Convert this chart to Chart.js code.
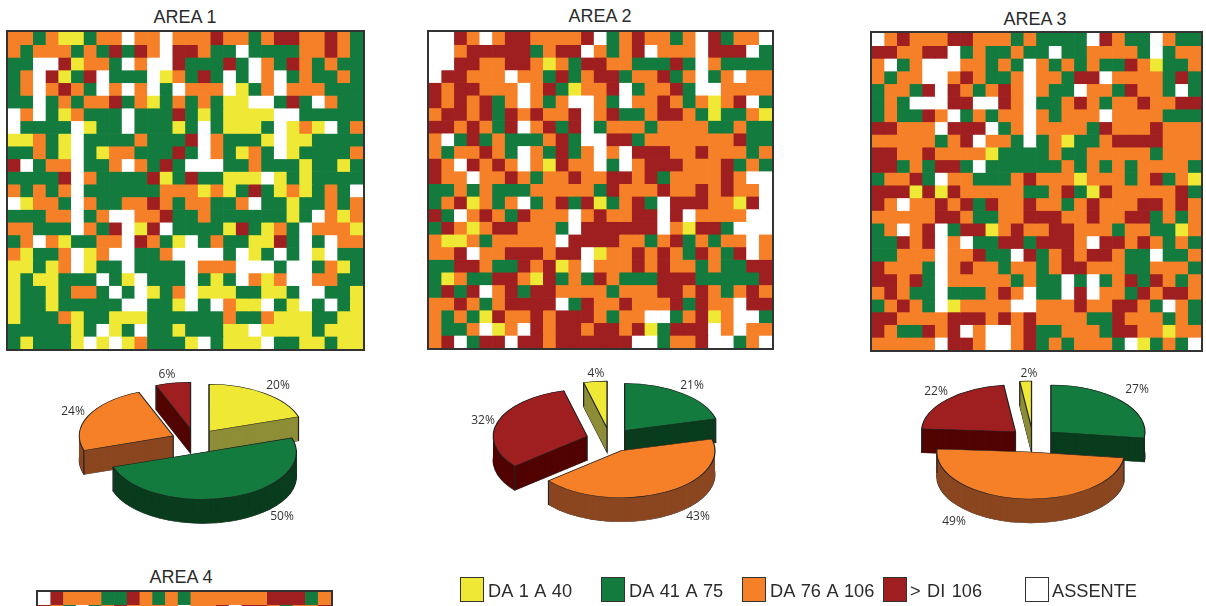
<!DOCTYPE html>
<html>
<head>
<meta charset="utf-8">
<title>Aree</title>
<script src="https://cdn.jsdelivr.net/npm/chart.js@4/dist/chart.umd.min.js"></script>
<style>
html, body { margin: 0; padding: 0; background: #fff; }
body { position: relative; width: 1206px; height: 606px; overflow: hidden; font-family: "Liberation Sans", sans-serif; color: #2b2b2b; }
.grid { position: absolute; outline: 2px solid #333; }
.grid canvas, .pie canvas { display: block; }
.pie { position: absolute; width: 300px; height: 220px; }
.title { position: absolute; font-size: 18px; transform: translateX(-50%); white-space: nowrap; }
.swatch { position: absolute; top: 577px; width: 24px; height: 25px; border: 1px solid #333; box-sizing: border-box; }
.legend-text { position: absolute; top: 581px; font-size: 18.2px; word-spacing: 1.4px; white-space: nowrap; }
</style>
</head>
<body>
<div class="title" style="left:185px;top:7px">AREA 1</div>
<div class="title" style="left:600px;top:6px">AREA 2</div>
<div class="title" style="left:1035px;top:9px">AREA 3</div>
<div class="title" style="left:181px;top:567px">AREA 4</div>

<div class="grid" style="left:8px;top:32px"><canvas id="grid1" width="355" height="317"></canvas></div>
<div class="grid" style="left:429px;top:32px"><canvas id="grid2" width="343" height="316"></canvas></div>
<div class="grid" style="left:872px;top:33px"><canvas id="grid3" width="329" height="317"></canvas></div>
<div class="grid" style="left:38px;top:592px"><canvas id="grid4" width="293" height="25"></canvas></div>

<div class="pie" style="left:45px;top:331px"><canvas id="pie1" width="300" height="220"></canvas></div>
<div class="pie" style="left:460px;top:330px"><canvas id="pie2" width="300" height="220"></canvas></div>
<div class="pie" style="left:883px;top:330px"><canvas id="pie3" width="300" height="220"></canvas></div>

<div class="swatch" style="left:460px;background:#EFE935"></div><div class="legend-text" style="left:488px">DA 1 A 40</div>
<div class="swatch" style="left:601px;background:#137B3E"></div><div class="legend-text" style="left:629px">DA 41 A 75</div>
<div class="swatch" style="left:742px;background:#F58028"></div><div class="legend-text" style="left:770px">DA 76 A 106</div>
<div class="swatch" style="left:883px;background:#9F1F20"></div><div class="legend-text" style="left:910px">&gt; DI 106</div>
<div class="swatch" style="left:1025px;background:#fff"></div><div class="legend-text" style="left:1052px">ASSENTE</div>

<script>
// cell classes: Y = da 1 a 40, G = da 41 a 75, O = da 76 a 106, R = > di 106, W = assente
const area1 = [
    'OOGOYYGOOWOOWOOOROOGORROOROG',
    'OGOOOGOGRGROWRROGGWGGGGOOROG',
    'GGWWRYOOGWOWWRGGGRGWOGROGOGG',
    'GOWRYGRWGGGWYOGRGWGWOWGOGGOG',
    'GOWOROGWOWOWGWOOOWYGOWOOOGGG',
    'GGWGOGOORGOYGOGOGYYWWGRGWOGG',
    'WOWGYOGGGWGGGRGYGYYYYWWGGGGG',
    'WGGGGWYGGWGGGYGWGYYYGWYOYWGO',
    'YYOGYWGGGGOGGGRWOGGGYWYYGGGG',
    'GGOGYWGYOOGGGRGWOGYOGWYGGGGO',
    'RWGOOWGGOWOGRGWWWGGOGGGYGGYG',
    'GGGGRWOGGGGRYGRGGYYYWYGYGGGG',
    'OGOGOWGGGGGGOOOYOYGRGYOYGOGW',
    'WYOOGWOGGOOROGOOGGOWGGYGGOGO',
    'GGGOOWGOWWOORGGOGGGGGGYGWOYO',
    'OOGGGWOGRWYRWGGGGYRGYOGWOOOY',
    'GOWOYGGOOWROGYWGOGGYYRGWGWOO',
    'OYGGOWYOWWGGOWWWWGWYGWGWYWGG',
    'YYGYOWYGGWGGGGWOOOWWWGWWGOYG',
    'YGYYGGGWGYWGGGWGYGWOYOWWOOGG',
    'YGGYGOOGWGWYGOWYYYGGYYGWWGGY',
    'YGGYGGGGGWWGGYWGWOYYWGYWGWGY',
    'YGGGOYGGYYYGGGGGGOGGOYYYGGYY',
    'GGGGGYGWYGWGGYGGGYYWYYYYGYYY',
    'GYGGGYWYWYOGGGYWGYYYWGGYYGYY'
];
const area2 = [
    'WWROWORROOOORWGOROOGOWRGOOW',
    'WWORRRRRGORRWOGORWOOOWRRRWG',
    'WWRROORROYOGRROOGGGRGWOGGGG',
    'WRROOOWOOGRGORRGOORGOWGOWOO',
    'RORROOOWORGYOORWGOORGWWOOOO',
    'RORORGOWOGOWWOGWOOROGOYORWG',
    'ORRORGROROORWORGGORROGYGGOY',
    'RROROGRWORGRWGOOOGOOOOGGOGG',
    'OWGRGOGGGORGWWRRGOOOOOOORGG',
    'OGOOROGWOGRGOWOWRRROOROOOGO',
    'ROWROROWOYROOWGWORRROOORGOG',
    'ROOWOOROGOOROORRORGOOOOROWW',
    'GGOGOGGGOOOOOGROOOROOROROOW',
    'GORYOGOWGORGRYGORGWRRROOYRW',
    'RGWOROGROOOWOROORRWRWOOOOWW',
    'GROYORROOOGWRRRRRRWOYRRGWWW',
    'OYYOGOOOOOWRRRROOGORGOGOOWO',
    'OORWOORRRORRWYOOROROGROGRWO',
    'GGRROGGRORYOWOOOROROOGOGGRR',
    'GYOGGRROYRGOGROGGGRRRGGGGGR',
    'GRGRWORGRROOOOGOOORROROGORO',
    'OOROGORRRRWGROOROOORGROOWRR',
    'OGOGYROORORRROGOOWWGORYOWWG',
    'OGGOWYOWRORRORRORYGRRRWOWOO',
    'ORWGRRWRRORRRRRRWWGOORWWGOW'
];
const area3 = [
    'WOROOORROOOGOGGGGWROGGWOGG',
    'RROORRWGOGGOGGWGGOOOOGWGOO',
    'OWGOWWWOOGOGWOGOGOGGROYGGO',
    'OGOOWWOROGGOWOOGRRWOOOOGRG',
    'GOOGRWROGOROWOGGWOOGROOGWG',
    'GOGWWWRRWWROWGGOROGOOROORR',
    'GOGGROWGOGOOWOGOOOWOOOOGGG',
    'RROOOWRRRWGOWOOOOGROOOROOO',
    'OOOOOGORWOOGWGOYGGORRRROOO',
    'RROOROOOOYGGGGOGGOOOOOGOOO',
    'RRGOGRRGWGGGGGGOGOGOGOOOOG',
    'GOORGWOOGGGOROOOYOOOGORGOY',
    'RRRYRYROOOOOGGORGYROOOOORG',
    'ROWOORORGROOROOGOROOORRORO',
    'OOOOORROGGOORRROOROORRGOGO',
    'GOWORWGRRYOROORROOOGOOGGYO',
    'GGRORWOWGGRRGRRROWRROROGOG',
    'GGOOOWOORGGWRGORORROGGWGGO',
    'ROOOGWOROOGOOGORROOOGGOOOG',
    'RRORGWOOOOOGOGGWGWGORGROGO',
    'OROGGWGGGOROWGGWRWOOGRORRO',
    'GOROGWYOOOOWWOOOROORROGWOG',
    'RROOOORRROROROOOOGGROOOGOG',
    'ROGGRORWOWWORGGOOOGRROOYOO',
    'OOOOOWRROWWORGOGOOOGWYGOGW'
];
const area4 = [
    'WROOOGGROGOGOOOOOORRRGO',
    'ROGWGOROOOOWOORWRROGOOR'
];

// percentages of each pie, clockwise from the top
const pie1Values = [20, 50, 24, 6];
const pie1Classes = ['Y', 'G', 'O', 'R'];
const pie2Values = [21, 43, 32, 4];
const pie2Classes = ['G', 'O', 'R', 'Y'];
const pie3Values = [27, 49, 22, 2];
const pie3Classes = ['G', 'O', 'R', 'Y'];

const classColors = { Y: '#EFE935', G: '#137B3E', O: '#F58028', R: '#9F1F20', W: '#FFFFFF' };
const wallColors = { Y: '#8E8E38', G: '#0A3D1E', O: '#8B4720', R: '#520400' };

function drawGrid(id, rows, rowCount) {
    new Chart(document.getElementById(id), {
        type: 'bar',
        data: {
            labels: rows[0].split('').map((c, i) => i + 1),
            datasets: rows.map(row => ({
                data: row.split('').map(() => 1),
                backgroundColor: row.split('').map(c => classColors[c]),
                borderWidth: 0,
                barPercentage: 1,
                categoryPercentage: 1
            }))
        },
        options: {
            responsive: false,
            animation: false,
            events: [],
            scales: {
                x: { stacked: true, display: false },
                y: { stacked: true, display: false, reverse: true, min: 0, max: rowCount }
            },
            plugins: { legend: { display: false }, tooltip: { enabled: false } }
        }
    });
}

const SQUASH = 0.5;
const DEPTH = 24;
const EXPLODE = 24;

function sector(ctx, x, y, r, a0, a1) {
    ctx.beginPath();
    ctx.moveTo(x, y);
    ctx.arc(x, y, r, a0, a1);
    ctx.closePath();
}

// pulls the slices apart, flattens the pie and puts the side walls under the slices
const pie3d = {
    id: 'pie3d',
    afterDatasetsUpdate(chart) {
        // the arc offset option also grows the radius, so move the elements instead
        chart.getDatasetMeta(0).data.forEach(arc => {
            const mid = (arc.startAngle + arc.endAngle) / 2;
            arc.x += Math.cos(mid) * EXPLODE;
            arc.y += Math.sin(mid) * EXPLODE;
        });
    },
    beforeDatasetsDraw(chart) {
        const ctx = chart.ctx;
        const classes = chart.data.datasets[0].classes;
        const cy = (chart.chartArea.top + chart.chartArea.bottom) / 2;
        ctx.save();
        ctx.translate(0, cy);
        ctx.scale(1, SQUASH);
        ctx.translate(0, -cy);

        const depth = DEPTH / SQUASH;
        const slices = chart.getDatasetMeta(0).data.map((arc, i) => ({
            x: arc.x, y: arc.y, a0: arc.startAngle, a1: arc.endAngle, r: arc.outerRadius, cls: classes[i]
        })).sort((a, b) => a.y - b.y);

        slices.forEach(s => {
            ctx.strokeStyle = '#222';
            ctx.lineWidth = 1.2;
            sector(ctx, s.x, s.y + depth, s.r, s.a0, s.a1);
            ctx.stroke();
            ctx.fillStyle = wallColors[s.cls];
            for (let d = depth; d >= 0; d -= 1) {
                sector(ctx, s.x, s.y + d, s.r, s.a0, s.a1);
                ctx.fill();
            }
            [[s.x, s.y], [s.x + Math.cos(s.a0) * s.r, s.y + Math.sin(s.a0) * s.r], [s.x + Math.cos(s.a1) * s.r, s.y + Math.sin(s.a1) * s.r]].forEach(p => {
                ctx.beginPath();
                ctx.moveTo(p[0], p[1]);
                ctx.lineTo(p[0], p[1] + depth);
                ctx.stroke();
            });
        });
    },
    afterDatasetsDraw(chart) {
        const ctx = chart.ctx;
        ctx.restore();
        const ds = chart.data.datasets[0];
        ctx.save();
        ctx.font = '12px "Open Sans"';
        ctx.fillStyle = '#333';
        ctx.textAlign = 'center';
        ctx.textBaseline = 'middle';
        ds.data.forEach((v, i) => {
            ctx.fillText(v + '%', ds.labelPos[i][0], ds.labelPos[i][1]);
        });
        ctx.restore();
    }
};

function drawPie(id, values, classes, labelPos) {
    new Chart(document.getElementById(id), {
        type: 'pie',
        data: {
            labels: classes,
            datasets: [{
                data: values,
                classes: classes,
                labelPos: labelPos,
                backgroundColor: classes.map(c => classColors[c]),
                borderColor: '#222',
                borderWidth: 1.2
            }]
        },
        options: {
            responsive: false,
            animation: false,
            events: [],
            radius: 94,
            plugins: { legend: { display: false }, tooltip: { enabled: false } }
        },
        plugins: [pie3d]
    });
}

drawGrid('grid1', area1, 25);
drawGrid('grid2', area2, 25);
drawGrid('grid3', area3, 25);
drawGrid('grid4', area4, 1.98);

// label places are in each pie's own canvas
drawPie('pie1', pie1Values, pie1Classes, [[233, 55], [237, 186], [28, 81], [122, 44]]);
drawPie('pie2', pie2Values, pie2Classes, [[232, 56], [238, 187], [23, 91], [136, 44]]);
drawPie('pie3', pie3Values, pie3Classes, [[254, 60], [71, 192], [53, 62], [146, 44]]);
</script>
</body>
</html>
